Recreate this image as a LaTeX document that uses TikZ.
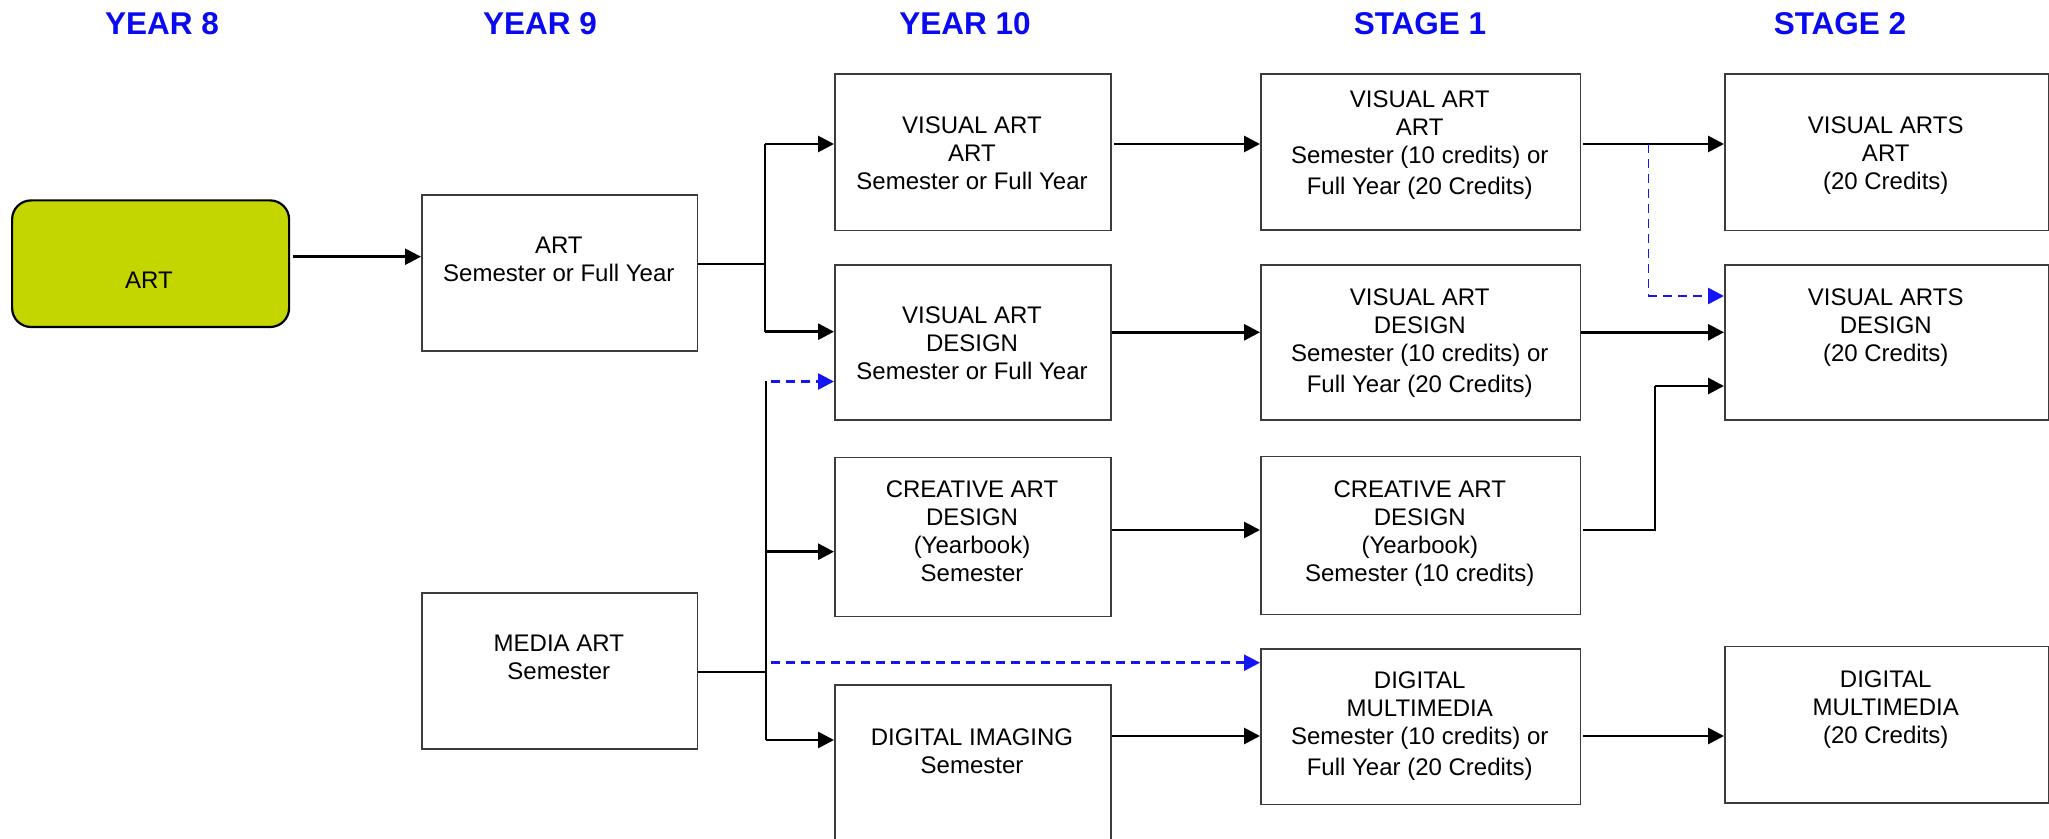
\documentclass[tikz,border=0pt]{standalone}
\usepackage{fontspec}
\setmainfont{Liberation Sans}
\usetikzlibrary{arrows.meta}
\definecolor{hdrblue}{RGB}{10,10,240}
\definecolor{artgreen}{RGB}{196,214,0}
\definecolor{boxgray}{RGB}{60,60,60}
\definecolor{dashblue}{RGB}{20,20,245}
\begin{document}
\begin{tikzpicture}[x=0.5pt,y=-0.5pt,
  hdr/.style={font=\fontsize{15.75}{18}\selectfont\bfseries, text=hdrblue, anchor=base, inner sep=0},
  box/.style={draw=boxgray, line width=0.8pt, fill=white, inner sep=0, anchor=north west},
  txt/.style={align=center, anchor=north, inner sep=0, font=\fontsize{12}{14}\selectfont},
  arr/.style={line width=1.4pt, -{Triangle[length=8pt,width=8pt]}},
  ln/.style={line width=1.1pt},
  darr/.style={draw=dashblue, line width=1.3pt, dash pattern=on 4.5pt off 3pt, -{Triangle[length=8pt,width=8pt]}},
  dln/.style={draw=dashblue, line width=0.8pt, dash pattern=on 4.5pt off 3pt}
]
\useasboundingbox (0,0) rectangle (2049,839);
\clip (0,0) rectangle (2049,839);
\fill[white] (0,0) rectangle (2049,839);

% headers
\node[hdr] (h8) at (162,34.3) {YEAR 8};
\node[hdr] (h9) at (540,34.3) {YEAR 9};
\node[hdr] (h10) at (965,34.3) {YEAR 10};
\node[hdr] (hs1) at (1420,34.3) {STAGE 1};
\node[hdr] (hs2) at (1840,34.3) {STAGE 2};

% year 8
\node[draw=black, line width=1.1pt, fill=artgreen, rounded corners=9.5pt, inner sep=0,
      anchor=north west, minimum width=138.5pt, minimum height=63.3pt] (y8) at (11,199.3) {};
\node[txt] (ty8) at (149,271.7) {ART};

% year 9
\node[box, minimum width=137.8pt, minimum height=78pt] (y9art) at (421,194) {};
\node[txt] (ty9art) at (558.8,236.7) {ART\\Semester or Full Year};
\node[box, minimum width=137.8pt, minimum height=78pt] (y9med) at (421,592) {};
\node[txt] (ty9med) at (558.8,635) {MEDIA ART\\Semester};

% year 10
\node[box, minimum width=138pt, minimum height=78.2pt] (y10va) at (834,73.3) {};
\node[txt] (ty10va) at (972,116.7) {VISUAL ART\\ART\\Semester or Full Year};
\node[box, minimum width=138pt, minimum height=77.7pt] (y10vd) at (834,264) {};
\node[txt] (ty10vd) at (972,306.7) {VISUAL ART\\DESIGN\\Semester or Full Year};
\node[box, minimum width=138pt, minimum height=79.6pt] (y10cr) at (834,456.5) {};
\node[txt] (ty10cr) at (972,480) {CREATIVE ART\\DESIGN\\(Yearbook)\\Semester};
\node[box, minimum width=138pt, minimum height=90pt] (y10di) at (834,684) {};
\node[txt] (ty10di) at (972,728.3) {DIGITAL IMAGING\\Semester};

% stage 1
\node[box, minimum width=159.75pt, minimum height=78.1pt] (s1va) at (1260,73.3) {};
\node[txt] (ts1va) at (1419.75,90) {VISUAL ART\\ART\\Semester (10 credits) or\\[1.5pt]Full Year (20 Credits)};
\node[box, minimum width=159.75pt, minimum height=77.5pt] (s1vd) at (1260,264) {};
\node[txt] (ts1vd) at (1419.75,288.3) {VISUAL ART\\DESIGN\\Semester (10 credits) or\\[1.5pt]Full Year (20 Credits)};
\node[box, minimum width=159.75pt, minimum height=79pt] (s1cr) at (1260,455.7) {};
\node[txt] (ts1cr) at (1419.75,480) {CREATIVE ART\\DESIGN\\(Yearbook)\\Semester (10 credits)};
\node[box, minimum width=159.75pt, minimum height=77.8pt] (s1dm) at (1260,648) {};
\node[txt] (ts1dm) at (1419.75,671.7) {DIGITAL\\MULTIMEDIA\\Semester (10 credits) or\\[1.5pt]Full Year (20 Credits)};

% stage 2
\node[box, minimum width=161.75pt, minimum height=78.2pt] (s2va) at (1724,73.3) {};
\node[txt] (ts2va) at (1885.75,116.7) {VISUAL ARTS\\ART\\(20 Credits)};
\node[box, minimum width=161.75pt, minimum height=77.5pt] (s2vd) at (1724,264) {};
\node[txt] (ts2vd) at (1885.75,288.3) {VISUAL ARTS\\DESIGN\\(20 Credits)};
\node[box, minimum width=161.75pt, minimum height=78.2pt] (s2dm) at (1724,645.7) {};
\node[txt] (ts2dm) at (1885.75,670.7) {DIGITAL\\MULTIMEDIA\\(20 Credits)};

% junction coordinates
\coordinate (a0) at (293,256.7);
\coordinate (j1) at (765,264);
\coordinate (b1) at (765,144);
\coordinate (b2) at (765,331.7);
\coordinate (j2) at (766,671.7);
\coordinate (c0) at (766,381.5);
\coordinate (c0d) at (771,381.5);
\coordinate (c1) at (766,551.7);
\coordinate (c2) at (766,740);
\coordinate (c3) at (771,662.7);
\coordinate (d1) at (1114,144);
\coordinate (d2) at (1583,144);
\coordinate (e1) at (1648.3,144);
\coordinate (e2) at (1648.3,296);
\coordinate (f1) at (1583,530);
\coordinate (f2) at (1655,530);
\coordinate (f3) at (1655,386);
\coordinate (g1) at (1583,736);

% year 8 -> year 9
\draw[arr, line width=1.2pt] (a0) -- (y9art.west |- a0);
% year 9 art -> year 10
\draw[ln] (y9art.east |- j1) -- (j1);
\draw[ln] (b1) -- (b2);
\draw[arr] (b1) -- (y10va.west |- b1);
\draw[arr] (b2) -- (y10vd.west |- b2);
% media art -> year 10 / stage 1
\draw[ln] (y9med.east |- j2) -- (j2);
\draw[ln] (c0) -- (c2);
\draw[darr] (c0d) -- (y10vd.west |- c0d);
\draw[arr] (c1) -- (y10cr.west |- c1);
\draw[arr] (c2) -- (y10di.west |- c2);
\draw[darr] (c3) -- (s1dm.west |- c3);
% year 10 -> stage 1
\draw[arr] (d1) -- (s1va.west |- d1);
\draw[arr] (y10vd.east |- 0,332.3) -- (s1vd.west |- 0,332.3);
\draw[arr] (y10cr.east |- 0,530) -- (s1cr.west |- 0,530);
\draw[arr] (y10di.east |- 0,736) -- (s1dm.west |- 0,736);
% stage 1 -> stage 2
\draw[arr] (d2) -- (s2va.west |- d2);
\draw[dln] (e1) -- (e2);
\draw[darr] (e2) -- (s2vd.west |- e2);
\draw[arr] (s1vd.east |- 0,332.3) -- (s2vd.west |- 0,332.3);
\draw[line width=1.4pt] (f1) -- (f2) -- (f3);
\draw[arr] (f3) -- (s2vd.west |- f3);
\draw[arr] (g1) -- (s2dm.west |- g1);
\end{tikzpicture}
\end{document}
